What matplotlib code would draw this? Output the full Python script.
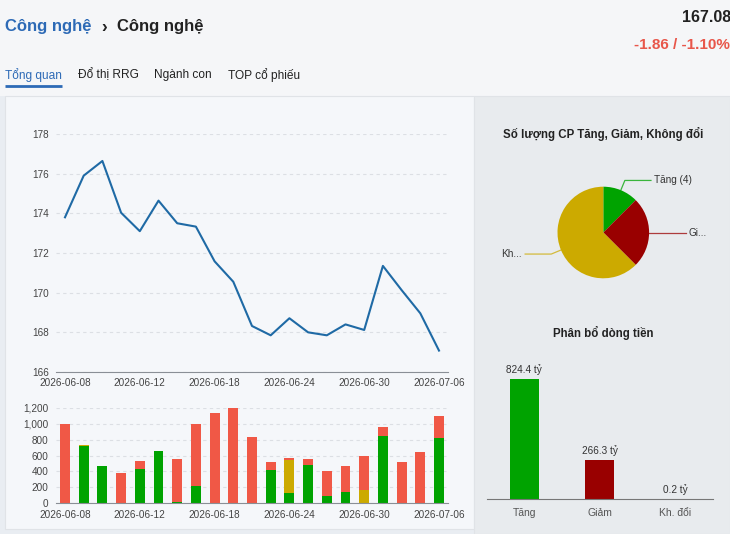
import numpy as np
import matplotlib
matplotlib.use("Agg")
import matplotlib.pyplot as plt
from matplotlib.patches import Rectangle
from matplotlib.ticker import FuncFormatter

plt.rcParams['font.family'] = ['Liberation Sans', 'DejaVu Sans']

# ---------------- data ----------------
dates = ["2026-06-08", "2026-06-09", "2026-06-10", "2026-06-11", "2026-06-12",
         "2026-06-15", "2026-06-16", "2026-06-17", "2026-06-18", "2026-06-19",
         "2026-06-22", "2026-06-23", "2026-06-24", "2026-06-25", "2026-06-26",
         "2026-06-29", "2026-06-30", "2026-07-01", "2026-07-02", "2026-07-03",
         "2026-07-06"]
close = [173.8, 175.9, 176.64, 174.03, 173.1, 174.64, 173.5, 173.33, 171.58, 170.55,
         168.32, 167.85, 168.71, 168.0, 167.85, 168.4, 168.12, 171.35, 170.13, 168.96,
         167.08]
up_val = [0, 720, 462, 0, 430, 652, 18, 218, 0, 8,
          0, 420, 125, 475, 96, 140, 5, 850, 0, 0, 824.4]
flat_val = [0, 8, 6, 0, 5, 8, 0, 0, 0, 0,
            0, 0, 420, 0, 0, 0, 160, 0, 0, 0, 0.2]
down_val = [995, 0, 0, 378, 95, 0, 540, 777, 1135, 1192,
            838, 103, 20, 78, 310, 328, 430, 108, 515, 645, 266.3]
date_tick_idx = [0, 4, 8, 12, 16, 20]
line_yticks = [166, 168, 170, 172, 174, 176, 178]
vol_yticks = [0, 200, 400, 600, 800, 1000, 1200]

pie_values = [4, 8, 20]
pie_labels = ["Tăng (4)", "Gi...", "Kh..."]
flow_cats = ["Tăng", "Giảm", "Kh. đổi"]
flow_vals = [824.4, 266.3, 0.2]
flow_labels = ["824.4 tỷ", "266.3 tỷ", "0.2 tỷ"]

index_value = "167.08"
index_change = "-1.86 / -1.10%"
tabs = ["Tổng quan", "Đổ thị RRG", "Ngành con", "TOP cổ phiếu"]

# ---------------- styles ----------------
W, H = 730, 534
GREEN = "#00a300"
RED = "#f05846"
YELLOW = "#ccaa00"
DARKRED = "#990000"
LINE = "#1f6aa5"
TICK = "#444444"
GRID = "#dcdfe4"


def box(x0, y0, x1, y1):
    return [x0 / W, 1 - y1 / H, (x1 - x0) / W, (y1 - y0) / H]


fig = plt.figure(figsize=(W / 100, H / 100), dpi=100, facecolor="#f5f6f8")

# background / panels
bg = fig.add_axes([0, 0, 1, 1], zorder=-10)
bg.set_xlim(0, W)
bg.set_ylim(H, 0)
bg.axis("off")
bg.add_patch(Rectangle((0, 96), W, H - 96, facecolor="#e9edf2", edgecolor="none"))
bg.add_patch(Rectangle((5, 96), 469, 433, facecolor="#f5f7fa", edgecolor="#e0e3e7", lw=0.8))
bg.add_patch(Rectangle((474, 96), W - 474, H - 96, facecolor="#e8ebee", edgecolor="#e0e3e7", lw=0.8))

# header
bg.text(5, 27, "Công nghệ", color="#2d6ab6", fontsize=12, fontweight="bold", va="center", ha="left")
bg.text(101, 27.5, "›", color="#222222", fontsize=12.5, fontweight="bold", va="center", ha="left")
bg.text(117, 27, "Công nghệ", color="#222222", fontsize=12, fontweight="bold", va="center", ha="left")
bg.text(731, 17, index_value, color="#222222", fontsize=11.5, fontweight="bold", va="center", ha="right")
bg.text(730, 45, index_change, color="#e8564a", fontsize=11, fontweight="bold", va="center", ha="right")
tab_x = [5, 78, 154, 228]
for i, (t, x) in enumerate(zip(tabs, tab_x)):
    bg.text(x, 75, t, color="#2d6ab6" if i == 0 else "#222222", fontsize=8.6, va="center", ha="left")
bg.plot([5, 62], [86.3, 86.3], color="#2d6ab6", lw=2, solid_capstyle="butt")

x = np.arange(len(dates))


def style_axis(ax):
    for s in ["top", "right", "left"]:
        ax.spines[s].set_visible(False)
    ax.spines["bottom"].set_color("#8a8f96")
    ax.tick_params(axis="both", length=0, labelsize=7.2, colors=TICK)
    ax.tick_params(axis="y", pad=5)
    ax.tick_params(axis="x", pad=4.6)
    ax.grid(axis="y", color=GRID, ls=(0, (3, 3)), lw=0.8)
    ax.set_axisbelow(True)


# ---------------- line chart ----------------
ax1 = fig.add_axes(box(55.65, 134, 448.35, 372))
ax1.set_facecolor("none")
ax1.plot(x, close, color=LINE, lw=1.5)
ax1.set_xlim(-0.5, len(dates) - 0.5)
ax1.set_ylim(166, 178)
ax1.set_yticks(line_yticks)
ax1.set_xticks(date_tick_idx)
ax1.set_xticklabels([dates[i] for i in date_tick_idx])
style_axis(ax1)

# ---------------- stacked volume bars ----------------
ax2 = fig.add_axes(box(55.65, 407.7, 448.35, 503.3))
ax2.set_facecolor("none")
bw = 0.53
up = np.array(up_val)
fl = np.array(flat_val)
dn = np.array(down_val)
ax2.bar(x, up, width=bw, color=GREEN)
ax2.bar(x, fl, width=bw, bottom=up, color=YELLOW)
ax2.bar(x, dn, width=bw, bottom=up + fl, color=RED)
ax2.set_xlim(-0.5, len(dates) - 0.5)
ax2.set_ylim(0, 1200)
ax2.set_yticks(vol_yticks)
ax2.yaxis.set_major_formatter(FuncFormatter(lambda v, p: f"{int(v):,}"))
ax2.set_xticks(date_tick_idx)
ax2.set_xticklabels([dates[i] for i in date_tick_idx])
style_axis(ax2)

# ---------------- pie ----------------
bg.text(603, 134, "Số lượng CP Tăng, Giảm, Không đổi", color="#222222", fontsize=8.3,
        fontweight="bold", ha="center", va="center")
R = 45.8
cx, cy = 603.3, 232.5
px0, px1, py0, py1 = 488, 718, 165, 300
ax3 = fig.add_axes(box(px0, py0, px1, py1))
ax3.set_facecolor("none")
pie_colors = [GREEN, DARKRED, YELLOW]
wedges, _ = ax3.pie(pie_values, colors=pie_colors, startangle=90, counterclock=False,
                    radius=1, wedgeprops=dict(linewidth=0))
ax3.set_xlim((px0 - cx) / R, (px1 - cx) / R)
ax3.set_ylim((cy - py1) / R, (cy - py0) / R)
for w, lab, col in zip(wedges, pie_labels, pie_colors):
    ang = np.deg2rad((w.theta1 + w.theta2) / 2)
    ux, uy = np.cos(ang), np.sin(ang)
    sgn = 1 if ux >= -1e-9 else -1
    ex, ey = 1.23 * ux, 1.23 * uy
    hx = ex + sgn * 0.57
    ax3.plot([ux, ex, hx], [uy, ey, ey], color=col, lw=0.9, alpha=0.75)
    ax3.text(hx + sgn * 0.07, ey, lab, fontsize=7.2, color="#333333",
             ha="left" if sgn > 0 else "right", va="center")

# ---------------- flow bars ----------------
bg.text(603, 333, "Phân bổ dòng tiền", color="#222222", fontsize=8.3,
        fontweight="bold", ha="center", va="center")
ax4 = fig.add_axes(box(486.7, 355, 712.7, 499.3))
ax4.set_facecolor("none")
xc = np.arange(len(flow_cats))
ax4.bar(xc, flow_vals, width=0.38, color=[GREEN, DARKRED, YELLOW])
ax4.set_xlim(-0.5, len(flow_cats) - 0.5)
ax4.set_ylim(0, 990)
for xi, v, lab in zip(xc, flow_vals, flow_labels):
    ax4.annotate(lab, (xi, v), xytext=(0, 4), textcoords="offset pixels",
                 ha="center", va="bottom", fontsize=7.2, color="#333333")
ax4.set_xticks(xc)
ax4.set_xticklabels(flow_cats)
ax4.set_yticks([])
for s in ["top", "right", "left"]:
    ax4.spines[s].set_visible(False)
ax4.spines["bottom"].set_color("#777777")
ax4.tick_params(axis="x", length=0, labelsize=7.5, colors="#555555", pad=6)

fig.savefig("out.png", dpi=100, facecolor=fig.get_facecolor())
